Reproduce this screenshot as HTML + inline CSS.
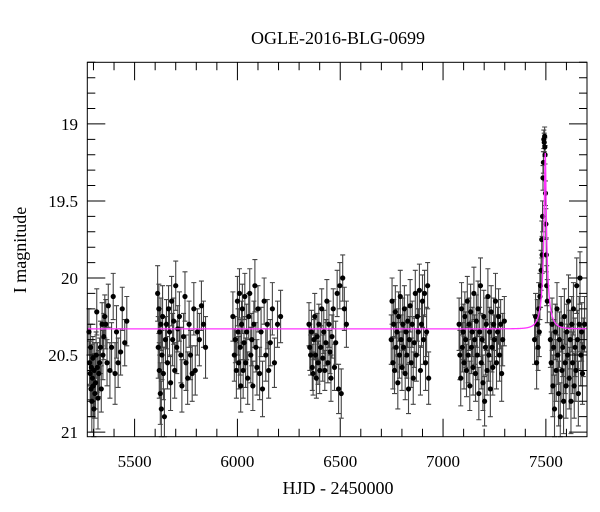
<!DOCTYPE html>
<html><head><meta charset="utf-8"><style>
body{margin:0;background:#fff}
svg{display:block;font-family:"Liberation Serif",serif}
</style></head><body>
<svg id="chart" width="600" height="512" viewBox="0 0 600 512" xmlns="http://www.w3.org/2000/svg">
<rect width="600" height="512" fill="#fff"/>
<text x="338" y="44" text-anchor="middle" font-size="18">OGLE-2016-BLG-0699</text>
<text x="338" y="494" text-anchor="middle" font-size="18">HJD - 2450000</text>
<text transform="translate(26,250) rotate(-90)" text-anchor="middle" font-size="18">I magnitude</text>
<g id="plot"></g>
</svg>
<script>
const xDomain=[5270,7700];
const yDomain=[18.6,21.03];
const xMajorTicks=[5500,6000,6500,7000,7500];
const yMajorTicks=[19,19.5,20,20.5,21];
const yTickLabels=["19","19.5","20","20.5","21"];
// model: t0, tE, u0, fs, baseline mag
const modelT0=7497, modelTE=36, modelU0=0.1, modelFs=0.206, modelBase=20.33;
const obsTime=[5278,5281,5284,5286,5288,5290,5292,5295,5297,5299,5302,5304,5307,5310,5313,5316,5319,5322,5326,5330,5334,5338,5342,5346,5350,5355,5360,5366,5372,5380,5388,5396,5405,5412,5420,5432,5440,5452,5462,
5612,5615,5618,5620,5622,5625,5628,5630,5633,5636,5640,5645,5650,5655,5660,5665,5670,5675,5680,5685,5690,5695,5700,5705,5710,5718,5725,5730,5738,5745,5750,5758,5765,5772,5780,5788,5795,5805,5815,5825,5835,5845,
5978,5985,5990,5995,6000,6003,6006,6010,6013,6016,6020,6024,6028,6032,6036,6040,6045,6050,6055,6060,6065,6070,6075,6080,6085,6090,6095,6100,6108,6115,6122,6130,6138,6145,6152,6160,6170,6180,6195,6210,
6348,6352,6356,6360,6364,6368,6372,6376,6380,6384,6388,6392,6396,6400,6405,6410,6415,6420,6425,6430,6435,6440,6445,6450,6455,6460,6466,6472,6478,6485,6492,6498,6505,6512,6520,6530,
6748,6752,6756,6760,6764,6768,6772,6776,6780,6784,6788,6792,6796,6800,6804,6808,6812,6816,6820,6824,6828,6832,6836,6840,6845,6850,6855,6860,6865,6870,6875,6880,6885,6890,6895,6900,6905,6910,6915,6920,6925,6930,
7078,7082,7086,7090,7094,7098,7102,7106,7110,7114,7118,7122,7126,7130,7134,7138,7142,7146,7150,7154,7158,7162,7166,7170,7174,7178,7182,7186,7190,7194,7198,7202,7206,7210,7214,7218,7222,7226,7230,7234,7238,7242,7246,7250,7255,7260,7265,7270,7275,7280,7285,7290,7298,
7445,7450,7455,7458,7462,7465,7468,7471,7474,7477,7480,7482,7484,7486,7488,7490,7492,7494,7495,7496,7498,7500,7502,7504,7507,
7522,7526,7530,7534,7538,7542,7546,7550,7554,7558,7562,7566,7570,7574,7578,7582,7586,7590,7594,7598,7602,7606,7610,7614,7618,7622,7626,7630,7634,7638,7642,7646,7650,7654,7658,7662,7666,7670,7674,7678,7682,7688];
const obsMag=[20.35,20.55,20.62,20.45,20.72,20.58,20.8,20.65,20.52,20.7,20.85,20.6,20.75,20.68,20.5,20.22,20.58,20.78,20.62,20.55,20.45,20.72,20.3,20.5,20.38,20.25,20.3,20.55,20.18,20.6,20.45,20.12,20.62,20.35,20.55,20.48,20.2,20.42,20.28,
20.1,20.45,20.2,20.6,20.35,20.75,20.3,20.85,20.5,20.25,20.62,20.9,20.4,20.3,20.55,20.2,20.35,20.68,20.15,20.4,20.28,20.6,20.05,20.45,20.33,20.25,20.5,20.7,20.38,20.12,20.55,20.65,20.3,20.5,20.62,20.2,20.6,20.35,20.4,20.18,20.3,20.45,
20.25,20.5,20.4,20.6,20.15,20.35,20.55,20.1,20.45,20.7,20.3,20.2,20.6,20.42,20.12,20.55,20.35,20.65,20.25,20.1,20.5,20.4,20.7,20.3,20.05,20.45,20.58,20.2,20.62,20.35,20.72,20.15,20.5,20.3,20.6,20.42,20.2,20.55,20.3,20.25,
20.3,20.45,20.5,20.35,20.58,20.62,20.4,20.25,20.5,20.65,20.38,20.55,20.3,20.6,20.45,20.2,20.52,20.35,20.6,20.42,20.15,20.55,20.3,20.48,20.65,20.38,20.2,20.58,20.42,20.1,20.72,20.05,20.75,20.0,20.2,20.3,
20.4,20.15,20.55,20.3,20.6,20.22,20.45,20.35,20.68,20.25,20.5,20.12,20.4,20.58,20.3,20.45,20.2,20.62,20.35,20.5,20.28,20.72,20.4,20.18,20.55,20.3,20.65,20.42,20.1,20.5,20.25,20.35,20.08,20.6,20.3,20.15,20.4,20.1,20.55,20.35,20.05,20.65,
20.3,20.5,20.65,20.2,20.45,20.35,20.55,20.25,20.4,20.6,20.15,20.5,20.3,20.7,20.22,20.45,20.35,20.58,20.1,20.4,20.62,20.28,20.5,20.2,20.75,20.35,20.05,20.55,20.4,20.68,20.25,20.8,20.45,20.3,20.6,20.12,20.5,20.35,20.72,20.22,20.45,20.58,20.3,20.4,20.15,20.55,20.35,20.25,20.5,20.3,20.62,20.4,20.28,
20.4,20.25,20.55,20.3,20.45,20.2,20.35,20.12,20.05,19.95,19.75,19.85,19.6,19.35,19.25,19.1,19.12,19.08,19.15,19.2,19.45,19.65,19.85,20.05,20.15,
20.4,20.55,20.3,20.7,20.45,20.85,20.35,20.6,20.2,20.5,20.75,20.4,20.9,20.3,20.6,20.45,20.8,20.25,20.55,20.7,20.35,20.5,20.15,20.65,20.4,20.8,20.3,20.55,20.2,20.7,20.45,20.6,20.05,20.4,20.75,20.3,20.0,20.5,20.35,20.62,20.45,20.3];
const obsErr=[0.15,0.14,0.17,0.15,0.18,0.15,0.2,0.16,0.14,0.2,0.2,0.18,0.16,0.17,0.15,0.15,0.16,0.2,0.15,0.16,0.17,0.15,0.14,0.16,0.15,0.14,0.16,0.15,0.14,0.18,0.16,0.15,0.2,0.17,0.16,0.15,0.14,0.15,0.16,
0.18,0.2,0.16,0.18,0.15,0.2,0.17,0.18,0.16,0.2,0.17,0.18,0.15,0.16,0.17,0.15,0.16,0.18,0.16,0.17,0.15,0.18,0.16,0.17,0.15,0.16,0.18,0.17,0.15,0.16,0.18,0.17,0.15,0.16,0.18,0.17,0.16,0.15,0.17,0.16,0.15,0.2,
0.16,0.17,0.15,0.18,0.16,0.15,0.17,0.16,0.18,0.17,0.15,0.16,0.18,0.17,0.15,0.16,0.18,0.17,0.15,0.16,0.18,0.17,0.16,0.15,0.17,0.16,0.18,0.15,0.17,0.16,0.18,0.15,0.17,0.16,0.18,0.15,0.17,0.16,0.15,0.17,
0.14,0.15,0.13,0.14,0.15,0.14,0.13,0.15,0.14,0.13,0.15,0.14,0.13,0.15,0.14,0.13,0.15,0.14,0.13,0.15,0.14,0.13,0.15,0.14,0.15,0.14,0.13,0.15,0.14,0.15,0.16,0.15,0.16,0.15,0.14,0.15,
0.16,0.15,0.17,0.16,0.15,0.17,0.16,0.15,0.17,0.16,0.15,0.17,0.16,0.15,0.17,0.16,0.15,0.17,0.16,0.15,0.17,0.16,0.15,0.17,0.16,0.15,0.17,0.16,0.15,0.17,0.16,0.15,0.17,0.16,0.15,0.17,0.16,0.15,0.18,0.16,0.15,0.17,
0.17,0.16,0.18,0.17,0.16,0.18,0.17,0.16,0.18,0.17,0.16,0.18,0.17,0.16,0.18,0.17,0.16,0.18,0.17,0.16,0.18,0.17,0.16,0.18,0.17,0.16,0.18,0.17,0.16,0.18,0.17,0.16,0.18,0.17,0.16,0.18,0.17,0.16,0.18,0.17,0.16,0.18,0.17,0.16,0.18,0.17,0.16,0.18,0.17,0.16,0.18,0.17,0.16,
0.16,0.15,0.17,0.16,0.15,0.17,0.16,0.15,0.14,0.13,0.12,0.12,0.1,0.08,0.07,0.06,0.06,0.06,0.06,0.06,0.08,0.1,0.11,0.13,0.14,
0.18,0.2,0.17,0.2,0.18,0.22,0.18,0.2,0.17,0.19,0.21,0.18,0.22,0.18,0.2,0.19,0.21,0.18,0.2,0.21,0.18,0.2,0.17,0.2,0.19,0.21,0.18,0.2,0.17,0.21,0.19,0.2,0.18,0.19,0.21,0.18,0.17,0.2,0.19,0.2,0.19,0.18];

const L=87.3,R=587,T=62.3,B=436.7;
const sx=t=>L+(t-xDomain[0])/(xDomain[1]-xDomain[0])*(R-L);
const sy=m=>T+(m-yDomain[0])/(yDomain[1]-yDomain[0])*(B-T);
const NS="http://www.w3.org/2000/svg";
const plot=document.getElementById('plot');
function mk(tag,attrs,parent){const e=document.createElementNS(NS,tag);for(const k in attrs)e.setAttribute(k,attrs[k]);(parent||plot).appendChild(e);return e;}

const dataG=mk('g',{});


const n=Math.min(obsTime.length,obsMag.length,obsErr.length);
for(let i=0;i<n;i++){
  const x=sx(obsTime[i]);
  const y1=Math.max(T,sy(obsMag[i]-obsErr[i])),y2=Math.min(B,sy(obsMag[i]+obsErr[i]));
  const eb=mk('path',{d:`M${x},${y1}V${y2}M${x-2.5},${y1}H${x+2.5}M${x-2.5},${y2}H${x+2.5}`,stroke:'#444','stroke-width':1.1,fill:'none'},dataG);
  
  
}
const modelPts=[];
for(let t=xDomain[0];t<=xDomain[1];t+=0.5){
  const u=Math.sqrt(modelU0*modelU0+((t-modelT0)/modelTE)**2);
  const A=(u*u+2)/(u*Math.sqrt(u*u+4));
  const m=modelBase-2.5*Math.log10(1+modelFs*(A-1));
  modelPts.push(sx(t).toFixed(2)+','+sy(m).toFixed(2));
}
const ml=mk('polyline',{points:modelPts.join(' '),fill:'none',stroke:'#ff33ff','stroke-width':1.3});


for(let i=0;i<n;i++){
  const c=mk('circle',{cx:sx(obsTime[i]),cy:sy(obsMag[i]),r:2.6,fill:'#000'},dataG);
  
  
}
const ax=mk('g',{stroke:'#000','stroke-width':1,fill:'none'});


for(let t=5300;t<=7700;t+=100){
  const major=xMajorTicks.includes(t),len=major?18:8,x=sx(t);
  mk('path',{d:`M${x},${B}V${B-len}M${x},${T}V${T+len}`},ax);
}
for(let k=186;k<=210;k++){
  const m=k/10,major=(k%5===0),len=major?18:8,y=sy(m);
  mk('path',{d:`M${L},${y}H${L+len}M${R},${y}H${R-len}`},ax);
}
mk('rect',{x:L,y:T,width:R-L,height:B-T},ax);
xMajorTicks.forEach(t=>{
  const tx=mk('text',{x:sx(t),y:467,'text-anchor':'middle','font-size':17,fill:'#000'});
  tx.textContent=String(t);
  
  
});
yMajorTicks.forEach((m,i)=>{
  const tx=mk('text',{x:78,y:sy(m)+6,'text-anchor':'end','font-size':17,fill:'#000'});
  tx.textContent=yTickLabels[i];
  
  
});
</script>
</body></html>
